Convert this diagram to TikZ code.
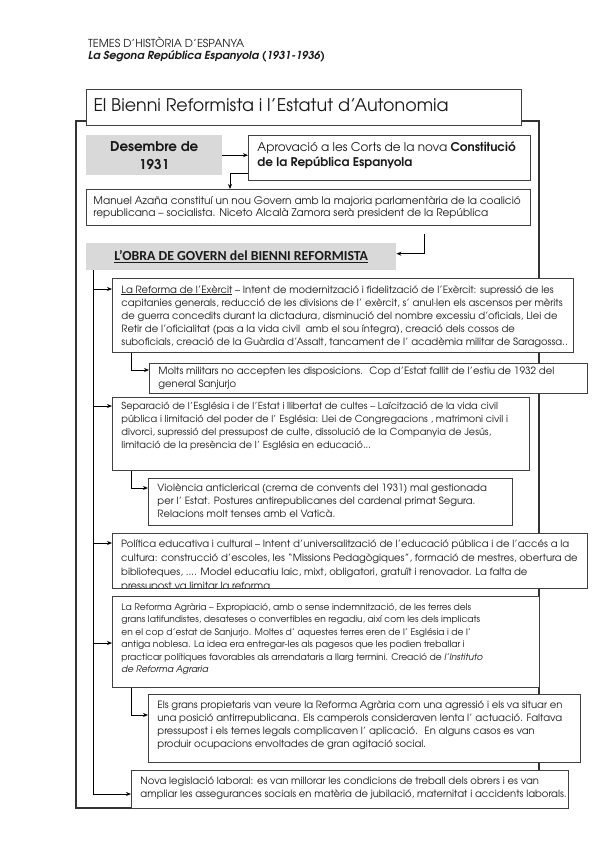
\documentclass[tikz,border=0pt]{standalone}
\usepackage{fontspec}
\setmainfont{texgyreadventor}[Extension=.otf, UprightFont=*-regular, BoldFont=*-bold, ItalicFont=*-italic, BoldItalicFont=*-bolditalic]
\newfontfamily\carl{Carlito}
\usetikzlibrary{arrows.meta}
\newcommand{\bodyf}{\fontsize{10}{13}\selectfont}
\newcommand{\Ln}[1]{\mbox{#1}\par}
% width height padx pady text
\newcommand{\bx}[5]{\parbox[c][#2pt][t]{#1pt}{\parindent0pt\parskip0pt\leftskip#3pt\vspace*{#4pt}#5}}
\tikzset{
  frameline/.style={draw=black!80, line width=1.1pt},
  tbox/.style={draw=black!75, line width=0.9pt, fill=white, anchor=north west, inner sep=0pt, text=black!90},
  gbox/.style={fill=black!15, anchor=north west, inner sep=0pt, text=black!90},
  conn/.style={draw=black, line width=0.8pt, -{Stealth[length=5pt,width=4pt]}},
  spine/.style={draw=black, line width=0.8pt},
  plain/.style={anchor=base west, inner sep=0pt, text=black!90},
  clipped/.style={anchor=north west, inner sep=0pt, text=black!90},
}
\begin{document}
\begin{tikzpicture}[x=1pt,y=-1pt]
\useasboundingbox (0,0) rectangle (599,848);
\fill[white] (0,0) rectangle (599,848);
% header
\node[plain, font=\fontsize{11}{13}\selectfont] (h1) at (88,48) {TEMES D’HISTÒRIA D’ESPANYA};
\node[plain, font=\fontsize{11}{13}\selectfont\bfseries\itshape] (h2) at (88,60) {La Segona República Espanyola (1931-1936)};
% outer frame
\draw[frameline] (76,121) rectangle (539,808);
% title
\node[tbox, line width=1pt] (title) at (86,89) {\bx{435}{36}{7}{9.5}{\fontsize{17.5}{20}\selectfont\Ln{El Bienni Reformista i l’Estatut d’Autonomia}}};
% Desembre
\node[gbox, minimum width=136pt, minimum height=40pt, align=center, font=\fontsize{13.5}{18}\selectfont\bfseries] (des) at (86,135) {Desembre de\\1931};
% Aprovacio
\node[tbox] (aprov) at (248,135) {\bx{282}{45}{9}{6.5}{\fontsize{12}{14.5}\selectfont
\Ln{Aprovació a les Corts de la nova \textbf{Constitució}}
\Ln{\textbf{de la República Espanyola}}}};
% Manuel
\node[tbox] (manuel) at (86,189) {\bx{444}{36}{7}{7}{\fontsize{10.5}{12}\selectfont
\Ln{Manuel Azaña constituí un nou Govern amb la majoria parlamentària de la coalició}
\Ln{republicana – socialista. Niceto Alcalà Zamora serà president de la República}}};
% Obra
\node[gbox, minimum width=310pt, minimum height=27pt, font=\carl\bfseries\fontsize{13.8}{15}\selectfont] (obra) at (86,243) {\underline{L’OBRA DE GOVERN del BIENNI REFORMISTA}};
% Exercit
\node[tbox] (exer) at (112,278) {\bx{461}{74}{9}{7}{\bodyf
\Ln{\underline{La Reforma de l’Exèrcit} – Intent de modernització i fidelització de l’Exèrcit: supressió de les}
\Ln{capitanies generals, reducció de les divisions de l’ exèrcit, s’ anul·len els ascensos per mèrits}
\Ln{de guerra concedits durant la dictadura, disminució del nombre excessiu d’oficials, Llei de}
\Ln{Retir de l’oficialitat (pas a la vida civil \ amb el sou íntegra), creació dels cossos de}
\Ln{suboficials, creació de la Guàrdia d’Assalt, tancament de l’ acadèmia militar de Saragossa..}}};
% Molts
\node[tbox] (molts) at (149,363) {\bx{438}{30}{9}{4}{\bodyf
\Ln{Molts militars no accepten les disposicions. \ Cop d’Estat fallit de l’estiu de 1932 del}
\Ln{general Sanjurjo}}};
% Separacio
\node[tbox] (sep) at (112,397) {\bx{417}{73}{9}{4.5}{\fontsize{9.7}{13}\selectfont
\Ln{Separació de l’Església i de l’Estat i llibertat de cultes – Laïcització de la vida civil}
\Ln{pública i limitació del poder de l’ Església: Llei de Congregacions , matrimoni civil i}
\Ln{divorci, supressió del pressupost de culte, dissolució de la Companyia de Jesús,}
\Ln{limitació de la presència de l’ Església en educació...}}};
% Violencia
\node[tbox] (viol) at (148,478) {\bx{364}{47}{9}{5}{\bodyf
\Ln{Violència anticlerical (crema de convents del 1931) mal gestionada}
\Ln{per l’ Estat. Postures antirepublicanes del cardenal primat Segura.}
\Ln{Relacions molt tenses amb el Vaticà.}}};
% Politica (text clipped at the bottom)
\node[tbox, minimum width=475pt, minimum height=55pt] (pol) at (112,533) {};
\begin{scope}
\clip (pol.north west) rectangle (pol.south east);
\node[clipped] (poltext) at (pol.north west) {\bx{475}{70}{9}{6.5}{\fontsize{10}{14}\selectfont
\Ln{Política educativa i cultural – Intent d’universalització de l’educació pública i de l’accés a la}
\Ln{cultura: construcció d’escoles, les “Missions Pedagògiques”, formació de mestres, obertura de}
\Ln{biblioteques, .... Model educatiu laic, mixt, obligatori, gratuït i renovador. La falta de}
\Ln{pressupost va limitar la reforma}}};
\end{scope}
\draw[draw=black!75, line width=0.9pt] (pol.north west) rectangle (pol.south east);
% Agraria
\node[tbox] (agr) at (112,596) {\bx{427}{91}{9}{7}{\fontsize{9.1}{12.4}\selectfont
\Ln{La Reforma Agrària – Expropiació, amb o sense indemnització, de les terres dels}
\Ln{grans latifundistes, desateses o convertibles en regadiu, així com les dels implicats}
\Ln{en el cop d’estat de Sanjurjo. Moltes d’ aquestes terres eren de l’ Església i de l’}
\Ln{antiga noblesa. La idea era entregar-les als pagesos que les podien treballar i}
\Ln{practicar polítiques favorables als arrendataris a llarg termini. Creació de \textit{l’Instituto}}
\Ln{\textit{de Reforma Agraria}}}};
% Els grans
\node[tbox] (els) at (148,694) {\bx{432}{68}{9}{6}{\bodyf
\Ln{Els grans propietaris van veure la Reforma Agrària com una agressió i els va situar en}
\Ln{una posició antirrepublicana. Els camperols consideraven lenta l’ actuació. Faltava}
\Ln{pressupost i els temes legals complicaven l’ aplicació. \ En alguns casos es van}
\Ln{produir ocupacions envoltades de gran agitació social.}}};
% Nova
\node[tbox] (nova) at (131,770) {\bx{437}{38}{9}{6}{\bodyf
\Ln{Nova legislació laboral: es van millorar les condicions de treball dels obrers i es van}
\Ln{ampliar les assegurances socials en matèria de jubilació, maternitat i accidents laborals.}}};
% connectors
\draw[conn] (des.east) -- (aprov.west |- des.east);
\draw[conn] ([yshift=8pt]aprov.south west) -| ([xshift=144pt]manuel.north west);
\coordinate (mo) at (424,234);
\draw[conn] (mo) |- ([yshift=3pt]obra.east);
\coordinate (sp) at ([xshift=7pt]obra.south west);
\coordinate (exin) at ([yshift=-11pt]exer.north west);
\coordinate (sepin) at ([yshift=-9pt]sep.north west);
\coordinate (polin) at ([yshift=-10pt]pol.north west);
\coordinate (agrin) at ([yshift=-47pt]agr.north west);
\coordinate (novain) at ([yshift=-24pt]nova.north west);
\draw[spine] (sp) -- (sp |- novain);
\draw[conn] (sp |- exin) -- (exin);
\draw[conn] (sp |- sepin) -- (sepin);
\draw[conn] (sp |- polin) -- (polin);
\draw[conn] (sp |- agrin) -- (agrin);
\draw[conn] (sp |- novain) -- (novain);
\coordinate (moin) at ([yshift=-7pt]molts.north west);
\coordinate (viin) at ([yshift=-10pt]viol.north west);
\coordinate (elin) at ([yshift=-21pt]els.north west);
\draw[conn] ([xshift=19pt]exer.south west) |- (moin);
\draw[conn] ([xshift=19pt]sep.south west) |- (viin);
\draw[conn] ([xshift=19pt]agr.south west) |- (elin);
\end{tikzpicture}
\end{document}
